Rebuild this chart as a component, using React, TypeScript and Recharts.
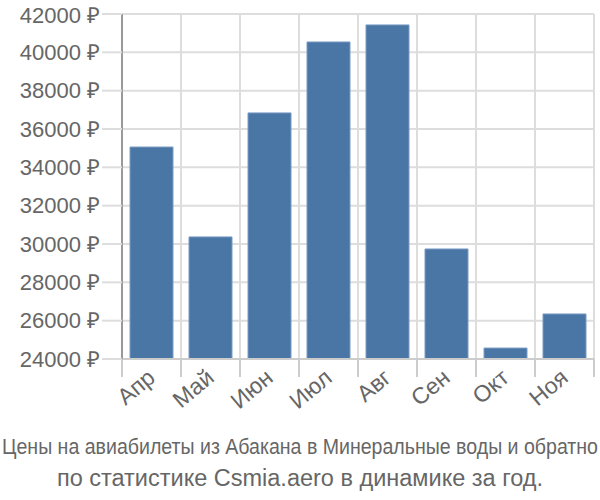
import React from 'react';
import { BarChart, Bar, XAxis, YAxis, CartesianGrid } from 'recharts';

const months = ['Апр', 'Май', 'Июн', 'Июл', 'Авг', 'Сен', 'Окт', 'Ноя'];
const prices = [35060, 30370, 36840, 40540, 41430, 29740, 24570, 26350];
const yTicks = [24000, 26000, 28000, 30000, 32000, 34000, 36000, 38000, 40000, 42000];

const data = months.map((m, i) => ({ month: m, price: prices[i] }));

const FONT = '"Liberation Sans", Arial, sans-serif';
const TEXT = '#666';

const MonthTick = (props: any) => {
    const { x, y, payload, index } = props;
    const band = 472 / months.length;
    return (
        <g>
            <line x1={x - band / 2} y1={y - 8} x2={x - band / 2} y2={y + 10} stroke="#ccc" strokeWidth={2} />
            {index === months.length - 1 && (
                <line x1={x + band / 2} y1={y - 8} x2={x + band / 2} y2={y + 10} stroke="#ccc" strokeWidth={2} />
            )}
            <text
                x={x + 5}
                y={y + 13}
                textAnchor="end"
                fill={TEXT}
                fontSize={23}
                fontFamily={FONT}
                transform={`rotate(-40, ${x + 5}, ${y + 13})`}
            >
                {payload.value}
            </text>
        </g>
    );
};

export default function App() {
    return (
        <div style={{ position: 'absolute', left: 0, top: 0, width: 600, height: 500, background: '#fff' }}>
            <BarChart width={600} height={500} data={data} margin={{ top: 14, right: 6, left: 0, bottom: 141 - 60 }}>
                <CartesianGrid
                    stroke="#ddd"
                    strokeWidth={2}
                    verticalCoordinatesGenerator={({ offset }: any) =>
                        months.map((_, i) => offset.left + (offset.width * i) / months.length).concat(offset.left + offset.width)
                    }
                />
                <XAxis
                    dataKey="month"
                    height={60}
                    tickLine={false}
                    axisLine={{ stroke: '#ccc', strokeWidth: 2 }}
                    tick={<MonthTick />}
                    interval={0}
                />
                <YAxis
                    width={122}
                    domain={[24000, 42000]}
                    ticks={yTicks}
                    allowDataOverflow
                    tickFormatter={(v: number) => `${v} ₽`}
                    tick={{ fill: TEXT, fontSize: 22, fontFamily: FONT }}
                    tickLine={{ stroke: '#ddd', strokeWidth: 2 }}
                    tickSize={20}
                    tickMargin={2}
                    axisLine={{ stroke: '#999', strokeWidth: 2 }}
                />
                <Bar dataKey="price" fill="#4a76a6" stroke="#7a9cc4" strokeWidth={1} barSize={43} isAnimationActive={false} />
            </BarChart>
            <svg width={600} height={70} style={{ position: 'absolute', left: 0, top: 430 }}>
                <text
                    x={300}
                    y={24}
                    textAnchor="middle"
                    fill={TEXT}
                    fontSize={22.5}
                    fontFamily={FONT}
                    textLength={596}
                    lengthAdjust="spacingAndGlyphs"
                >
                    Цены на авиабилеты из Абакана в Минеральные воды и обратно
                </text>
                <text x={300} y={56} textAnchor="middle" fill={TEXT} fontSize={23.5} fontFamily={FONT}>
                    по статистике Csmia.aero в динамике за год.
                </text>
            </svg>
        </div>
    );
}
